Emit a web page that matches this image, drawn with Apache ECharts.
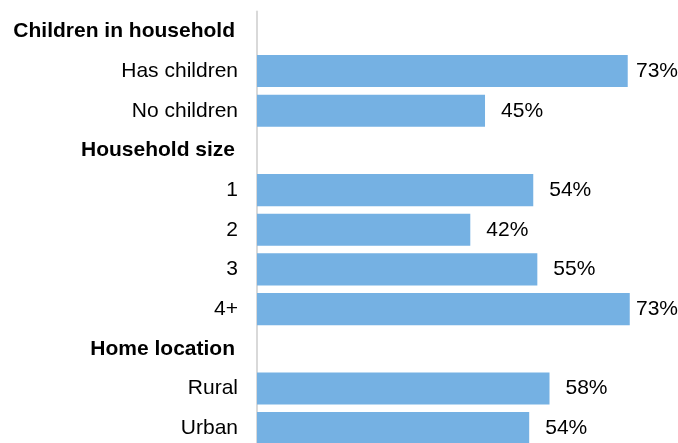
<!DOCTYPE html>
<html>
<head>
<meta charset="utf-8">
<script src="https://cdn.jsdelivr.net/npm/echarts@6/dist/echarts.min.js"></script>
<style>
html,body{margin:0;padding:0;background:#fff;overflow:hidden;}
#chart{width:678px;height:448px;}
</style>
</head>
<body>
<div id="chart"></div>
<script>
const categories = ["Children in household","Has children","No children","Household size","1","2","3","4+","Home location","Rural","Urban"];
const headers = ["Children in household","Household size","Home location"];
const values = [null, 73.0, 44.9, null, 54.4, 42.0, 55.2, 73.4, null, 57.6, 53.6];
const valueLabels = ["", "73%", "45%", "", "54%", "42%", "55%", "73%", "", "58%", "54%"];

const W = 678;
const FONT = 'Liberation Sans, Arial, sans-serif';
const chart = echarts.init(document.getElementById('chart'), null, {renderer:'canvas'});
chart.setOption({
  animation:false,
  backgroundColor:'#ffffff',
  grid:{left:257, top:11.5, right:0, bottom:0, containLabel:false},
  xAxis:{type:'value', min:0, max:82.9, show:false},
  yAxis:{
    type:'category', inverse:true, data:categories,
    axisLine:{show:true, lineStyle:{color:'#d9d9d9', width:2}},
    axisTick:{show:false},
    axisLabel:{
      margin:19, fontFamily:FONT, fontSize:21, color:'#000',
      formatter:function(v){ return headers.indexOf(v)>=0 ? '{b|'+v+'}' : v; },
      rich:{b:{fontWeight:'bold', fontSize:21, fontFamily:FONT, color:'#000', padding:[0,3,0,0]}}
    },
    splitLine:{show:false}
  },
  series:[{
    type:'bar', data:values, barCategoryGap:'19%',
    itemStyle:{color:'#75b1e3'},
    label:{
      show:true, position:'right', distance:16,
      fontFamily:FONT, fontSize:21, color:'#000',
      formatter:function(p){ return valueLabels[p.dataIndex]; }
    },
    labelLayout:function(p){
      const r = p.labelRect;
      if (r.x + r.width > W) {
        return {x: W - r.width, y: r.y + r.height / 2, align:'left', verticalAlign:'middle'};
      }
      return {};
    }
  }]
});
</script>
</body>
</html>
